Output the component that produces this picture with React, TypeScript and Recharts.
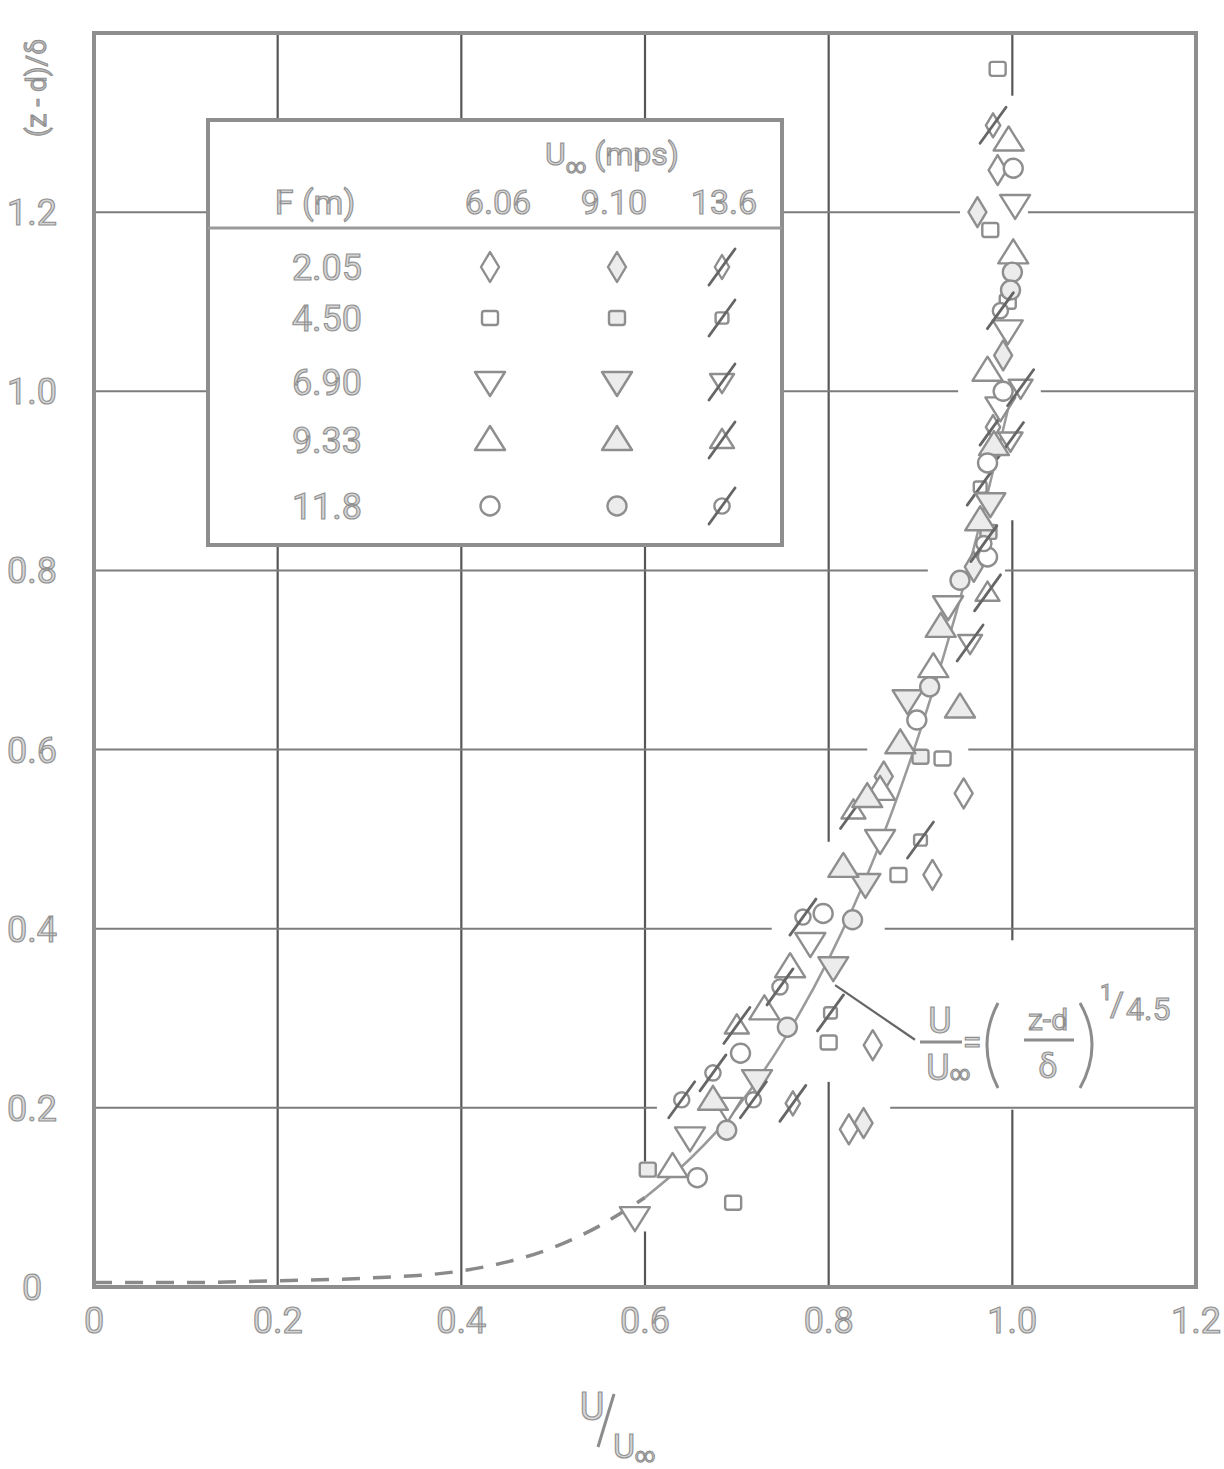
import React from 'react'
import { ComposedChart, Scatter, Line, XAxis, YAxis, ReferenceLine } from 'recharts'

// velocity profile measurements: u = U/U∞, z = (z - d)/δ, v = free-stream speed (mps)
const F_205 = [
  { u: 0.984, z: 1.247, v: 6.06 },
  { u: 0.962, z: 1.2, v: 9.1 },
  { u: 0.947, z: 0.551, v: 6.06 },
  { u: 0.913, z: 0.46, v: 6.06 },
  { u: 0.848, z: 0.27, v: 6.06 },
  { u: 0.822, z: 0.176, v: 6.06 },
  { u: 0.838, z: 0.183, v: 9.1 },
  { u: 0.979, z: 1.297, v: 13.6 },
  { u: 0.761, z: 0.205, v: 13.6 },
  { u: 0.979, z: 0.96, v: 13.6 },
  { u: 0.958, z: 0.804, v: 9.1 },
  { u: 0.99, z: 1.04, v: 9.1 },
  { u: 0.86, z: 0.57, v: 9.1 },
]

const F_450 = [
  { u: 0.984, z: 1.36, v: 6.06 },
  { u: 0.976, z: 1.18, v: 6.06 },
  { u: 0.924, z: 0.59, v: 6.06 },
  { u: 0.876, z: 0.46, v: 6.06 },
  { u: 0.8, z: 0.273, v: 6.06 },
  { u: 0.696, z: 0.094, v: 6.06 },
  { u: 0.603, z: 0.131, v: 9.1 },
  { u: 0.9, z: 0.592, v: 9.1 },
  { u: 0.802, z: 0.306, v: 13.6 },
  { u: 0.9, z: 0.499, v: 13.6 },
  { u: 0.965, z: 0.893, v: 13.6 },
  { u: 0.974, z: 0.843, v: 9.1 },
  { u: 0.995, z: 1.1, v: 6.06 },
]

const F_690 = [
  { u: 1.003, z: 1.208, v: 6.06 },
  { u: 0.589, z: 0.078, v: 6.06 },
  { u: 0.649, z: 0.167, v: 6.06 },
  { u: 0.722, z: 0.231, v: 9.1 },
  { u: 0.78, z: 0.384, v: 6.06 },
  { u: 0.805, z: 0.357, v: 9.1 },
  { u: 0.856, z: 0.499, v: 6.06 },
  { u: 0.886, z: 0.655, v: 9.1 },
  { u: 0.987, z: 0.982, v: 6.06 },
  { u: 0.976, z: 0.875, v: 9.1 },
  { u: 0.998, z: 0.945, v: 13.6 },
  { u: 1.009, z: 1.004, v: 13.6 },
  { u: 0.954, z: 0.719, v: 13.6 },
  { u: 0.995, z: 1.068, v: 6.06 },
  { u: 0.93, z: 0.76, v: 6.06 },
  { u: 0.84, z: 0.45, v: 9.1 },
  { u: 0.69, z: 0.2, v: 6.06 },
]

const F_933 = [
  { u: 0.996, z: 1.28, v: 6.06 },
  { u: 1.001, z: 1.154, v: 6.06 },
  { u: 0.63, z: 0.134, v: 6.06 },
  { u: 0.674, z: 0.209, v: 9.1 },
  { u: 0.758, z: 0.357, v: 6.06 },
  { u: 0.816, z: 0.469, v: 9.1 },
  { u: 0.856, z: 0.555, v: 6.06 },
  { u: 0.878, z: 0.607, v: 9.1 },
  { u: 0.914, z: 0.692, v: 6.06 },
  { u: 0.922, z: 0.737, v: 9.1 },
  { u: 0.943, z: 0.647, v: 9.1 },
  { u: 0.973, z: 1.023, v: 6.06 },
  { u: 0.965, z: 0.856, v: 9.1 },
  { u: 0.7, z: 0.292, v: 13.6 },
  { u: 0.827, z: 0.532, v: 13.6 },
  { u: 0.973, z: 0.775, v: 13.6 },
  { u: 0.842, z: 0.547, v: 9.1 },
  { u: 0.73, z: 0.31, v: 6.06 },
  { u: 0.98, z: 0.94, v: 9.1 },
]

const F_1180 = [
  { u: 1.001, z: 1.249, v: 6.06 },
  { u: 1.0, z: 1.133, v: 9.1 },
  { u: 0.657, z: 0.122, v: 6.06 },
  { u: 0.689, z: 0.175, v: 9.1 },
  { u: 0.704, z: 0.261, v: 6.06 },
  { u: 0.755, z: 0.29, v: 9.1 },
  { u: 0.794, z: 0.417, v: 6.06 },
  { u: 0.826, z: 0.41, v: 9.1 },
  { u: 0.896, z: 0.633, v: 6.06 },
  { u: 0.943, z: 0.789, v: 9.1 },
  { u: 0.973, z: 0.815, v: 6.06 },
  { u: 0.998, z: 1.113, v: 9.1 },
  { u: 0.973, z: 0.92, v: 6.06 },
  { u: 0.64, z: 0.209, v: 13.6 },
  { u: 0.674, z: 0.239, v: 13.6 },
  { u: 0.772, z: 0.413, v: 13.6 },
  { u: 0.747, z: 0.335, v: 13.6 },
  { u: 0.987, z: 1.09, v: 13.6 },
  { u: 0.969, z: 0.83, v: 13.6 },
  { u: 0.718, z: 0.209, v: 13.6 },
  { u: 0.91, z: 0.67, v: 9.1 },
  { u: 0.99, z: 1.0, v: 6.06 },
]

// 1/4.5 power law, dashed near the wall, solid through the data
const LAW_DASHED = [
  { u: 0.0, z: 0.005 },
  { u: 0.1, z: 0.005 },
  { u: 0.2, z: 0.007 },
  { u: 0.3, z: 0.01 },
  { u: 0.4, z: 0.018 },
  { u: 0.45, z: 0.028 },
  { u: 0.5, z: 0.044 },
  { u: 0.55, z: 0.068 },
  { u: 0.6, z: 0.1 },
]
const LAW_SOLID = [
  { u: 0.6, z: 0.1 },
  { u: 0.65, z: 0.144 },
  { u: 0.7, z: 0.2 },
  { u: 0.75, z: 0.274 },
  { u: 0.8, z: 0.366 },
  { u: 0.85, z: 0.48 },
  { u: 0.9, z: 0.622 },
  { u: 0.95, z: 0.794 },
  { u: 1.0, z: 1.0 },
]

const X_TICKS = [0, 0.2, 0.4, 0.6, 0.8, 1.0, 1.2]
const Y_TICKS = [0, 0.2, 0.4, 0.6, 0.8, 1.0, 1.2]
const FETCHES = ['2.05', '4.50', '6.90', '9.33', '11.8']
const SPEEDS = [6.06, 9.1, 13.6]
const SPEED_LABELS = ['6.06', '9.10', '13.6']

// grid lines, drawn in pieces so they stop short of the data band
const V_GRID = [
  { x: 0.2, from: 0, to: 1.4 },
  { x: 0.4, from: 0, to: 1.4 },
  { x: 0.6, from: 0, to: 0.062 },
  { x: 0.6, from: 0.14, to: 1.4 },
  { x: 0.8, from: 0, to: 0.229 },
  { x: 0.8, from: 0.497, to: 1.4 },
  { x: 1.0, from: 0, to: 0.198 },
  { x: 1.0, from: 0.387, to: 0.856 },
  { x: 1.0, from: 1.33, to: 1.4 },
]
const H_GRID = [
  { y: 0.2, from: 0, to: 0.613 },
  { y: 0.2, from: 0.867, to: 1.2 },
  { y: 0.4, from: 0, to: 0.738 },
  { y: 0.4, from: 0.861, to: 1.2 },
  { y: 0.6, from: 0, to: 0.842 },
  { y: 0.6, from: 0.952, to: 1.2 },
  { y: 0.8, from: 0, to: 0.908 },
  { y: 0.8, from: 0.992, to: 1.2 },
  { y: 1.0, from: 0, to: 0.941 },
  { y: 1.0, from: 1.031, to: 1.2 },
  { y: 1.2, from: 0, to: 0.943 },
  { y: 1.2, from: 1.017, to: 1.2 },
]

const INK = '#8e8e8e'
const FONT = 'Roboto, "DejaVu Sans", sans-serif'
const textStyle = { fill: '#d4d4d4', stroke: '#909090', strokeWidth: 1.1, fontFamily: FONT }

type Kind = 'diamond' | 'square' | 'down' | 'up' | 'circle'
const KINDS: Kind[] = ['diamond', 'square', 'down', 'up', 'circle']

function Marker({ cx, cy, kind, speed }: { cx: number; cy: number; kind: Kind; speed: number }) {
  const fill = speed === 9.1 ? '#ececec' : '#ffffff'
  const slashed = speed === 13.6
  const k = slashed ? 0.8 : 1
  const common = { fill, stroke: INK, strokeWidth: 2.4, strokeLinejoin: 'round' as const }
  let body: React.ReactNode = null
  if (kind === 'diamond') {
    body = <polygon points={`${cx},${cy - 15 * k} ${cx + 9 * k},${cy} ${cx},${cy + 15 * k} ${cx - 9 * k},${cy}`} {...common} />
  } else if (kind === 'square') {
    body = <rect x={cx - 8 * k} y={cy - 7 * k} width={16 * k} height={14 * k} rx={2.5} {...common} />
  } else if (kind === 'down') {
    body = <polygon points={`${cx - 15 * k},${cy - 10 * k} ${cx + 15 * k},${cy - 10 * k} ${cx},${cy + 14 * k}`} {...common} />
  } else if (kind === 'up') {
    body = <polygon points={`${cx - 15 * k},${cy + 10 * k} ${cx + 15 * k},${cy + 10 * k} ${cx},${cy - 14 * k}`} {...common} />
  } else {
    body = <circle cx={cx} cy={cy} r={9.5 * k} {...common} />
  }
  return (
    <g>
      {body}
      {slashed && (
        <line x1={cx - 13} y1={cy + 18} x2={cx + 13} y2={cy - 18} stroke="#666" strokeWidth={2.8} strokeLinecap="round" />
      )}
    </g>
  )
}

const shapeFor = (kind: Kind) => (p: any) => <Marker cx={p.cx} cy={p.cy} kind={kind} speed={p.payload.v} />

const XTick = ({ x, y, payload }: any) => (
  <text x={x} y={y + 38} textAnchor="middle" fontSize={36} style={textStyle}>
    {payload.value === 0 ? '0' : payload.value.toFixed(1)}
  </text>
)

const YTick = ({ y, payload }: any) => (
  <text x={32} y={y + 13} textAnchor="middle" fontSize={36} style={textStyle}>
    {payload.value === 0 ? '0' : payload.value.toFixed(1)}
  </text>
)

const POINTER = [
  { x: 0.807, y: 0.337 },
  { x: 0.894, y: 0.276 },
]

function Overlay() {
  const cols = [490, 617, 722]
  const rows = [267, 318, 382, 440, 506]
  return (
    <svg width={1224} height={1469} style={{ position: 'absolute', left: 0, top: 0, pointerEvents: 'none' }}>
      {/* plot frame */}
      <rect x={94} y={33} width={1102} height={1254} fill="none" stroke={INK} strokeWidth={4} />

      {/* key table */}
      <rect x={208} y={120} width={574} height={425} fill="#fff" stroke={INK} strokeWidth={4} />
      <line x1={208} y1={228} x2={782} y2={228} stroke="#9a9a9a" strokeWidth={3} />
      <text x={612} y={165} textAnchor="middle" fontSize={32} style={textStyle}>
        U<tspan fontSize={20} dy={8}>∞</tspan>
        <tspan dy={-8}> (mps)</tspan>
      </text>
      <text x={315} y={214} textAnchor="middle" fontSize={34} style={textStyle}>F (m)</text>
      {SPEED_LABELS.map((s, i) => (
        <text key={s} x={[498, 614, 724][i]} y={214} textAnchor="middle" fontSize={34} style={textStyle}>
          {s}
        </text>
      ))}
      {FETCHES.map((f, r) => (
        <g key={f}>
          <text x={327} y={rows[r] + 13} textAnchor="middle" fontSize={36} style={textStyle}>
            {f}
          </text>
          {SPEEDS.map((s, c) => (
            <Marker key={s} cx={cols[c]} cy={rows[r]} kind={KINDS[r]} speed={s} />
          ))}
        </g>
      ))}

      {/* power-law label */}
      <g style={textStyle}>
        <text x={940} y={1033} textAnchor="middle" fontSize={36}>U</text>
        <line x1={920} y1={1042} x2={962} y2={1042} stroke="#8c8c8c" strokeWidth={3} />
        <text x={938} y={1080} textAnchor="middle" fontSize={36}>U</text>
        <text x={960} y={1080} textAnchor="middle" fontSize={20}>∞</text>
        <text x={972} y={1054} textAnchor="middle" fontSize={34}>=</text>
        <path d="M 998 1003 Q 976 1045 998 1088" fill="none" stroke="#8c8c8c" strokeWidth={3} />
        <text x={1048} y={1030} textAnchor="middle" fontSize={30}>z-d</text>
        <line x1={1024} y1={1040} x2={1074} y2={1040} stroke="#8c8c8c" strokeWidth={3} />
        <text x={1048} y={1078} textAnchor="middle" fontSize={34}>δ</text>
        <path d="M 1080 1003 Q 1104 1045 1080 1088" fill="none" stroke="#8c8c8c" strokeWidth={3} />
        <text x={1100} y={1000} fontSize={22}>1</text>
        <text x={1110} y={1016} fontSize={34}>/</text>
        <text x={1126} y={1020} fontSize={32}>4.5</text>
      </g>

      {/* axis titles */}
      <text
        x={46}
        y={88}
        transform="rotate(-90 46 88)"
        textAnchor="middle"
        fontSize={28}
        style={{ ...textStyle, fill: '#bdbdbd' }}
      >
        (z - d)/δ
      </text>
      <g style={textStyle}>
        <text x={592} y={1420} textAnchor="middle" fontSize={38}>U</text>
        <line x1={598} y1={1447} x2={614} y2={1394} stroke="#8c8c8c" strokeWidth={3} />
        <text x={624} y={1458} textAnchor="middle" fontSize={34}>U</text>
        <text x={645} y={1462} textAnchor="middle" fontSize={20}>∞</text>
      </g>
    </svg>
  )
}

export default function App() {
  return (
    <div style={{ position: 'absolute', left: 0, top: 0, width: 1224, height: 1469, background: '#fff' }}>
      <ComposedChart width={1224} height={1469} margin={{ top: 33, right: 28, bottom: 122, left: 14 }}>
        <XAxis
          type="number"
          dataKey="u"
          domain={[0, 1.2]}
          ticks={X_TICKS}
          axisLine={false}
          tickLine={false}
          tick={<XTick />}
          height={60}
          allowDataOverflow
        />
        <YAxis
          type="number"
          dataKey="z"
          domain={[0, 1.4]}
          ticks={Y_TICKS}
          axisLine={false}
          tickLine={false}
          tick={<YTick />}
          width={80}
          allowDataOverflow
        />
        {V_GRID.map((g, i) => (
          <ReferenceLine
            key={`v${i}`}
            segment={[{ x: g.x, y: g.from }, { x: g.x, y: g.to }]}
            stroke="#575757"
            strokeWidth={2.2}
          />
        ))}
        {H_GRID.map((g, i) => (
          <ReferenceLine
            key={`h${i}`}
            segment={[{ x: g.from, y: g.y }, { x: g.to, y: g.y }]}
            stroke="#7c7c7c"
            strokeWidth={2}
          />
        ))}
        <ReferenceLine segment={POINTER} stroke="#666" strokeWidth={2.2} />
        <Line
          data={LAW_DASHED}
          dataKey="z"
          type="monotone"
          stroke="#8a8a8a"
          strokeWidth={3.5}
          strokeDasharray="18 13"
          dot={false}
          isAnimationActive={false}
        />
        <Line
          data={LAW_SOLID}
          dataKey="z"
          type="monotone"
          stroke="#9a9a9a"
          strokeWidth={2.5}
          dot={false}
          isAnimationActive={false}
        />
        <Scatter data={F_205} dataKey="z" shape={shapeFor('diamond')} isAnimationActive={false} />
        <Scatter data={F_450} dataKey="z" shape={shapeFor('square')} isAnimationActive={false} />
        <Scatter data={F_690} dataKey="z" shape={shapeFor('down')} isAnimationActive={false} />
        <Scatter data={F_933} dataKey="z" shape={shapeFor('up')} isAnimationActive={false} />
        <Scatter data={F_1180} dataKey="z" shape={shapeFor('circle')} isAnimationActive={false} />
      </ComposedChart>
      <Overlay />
    </div>
  )
}
